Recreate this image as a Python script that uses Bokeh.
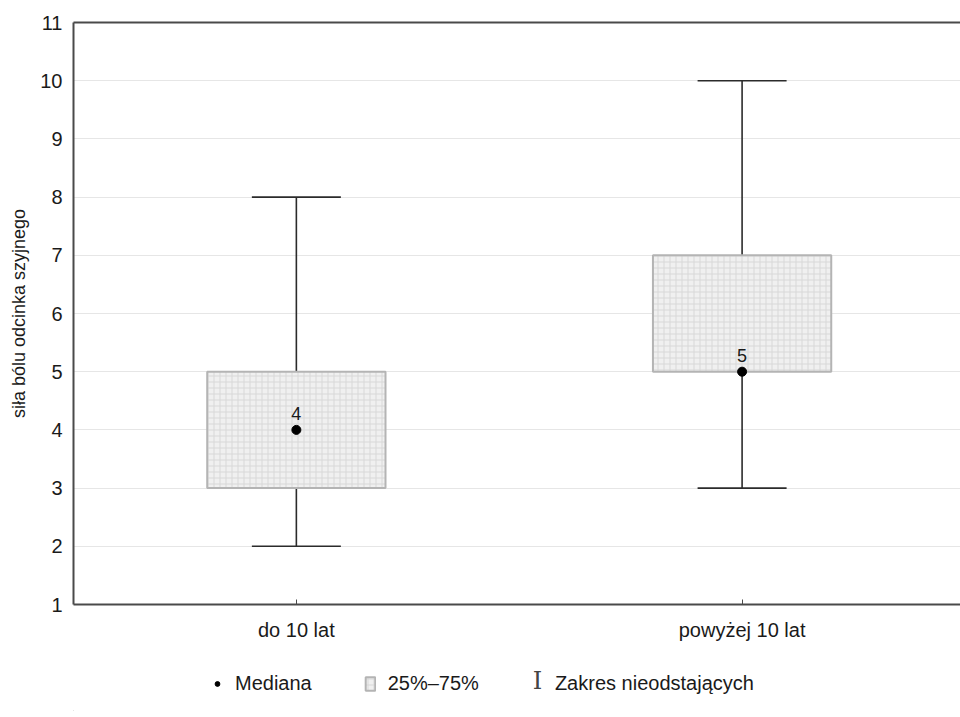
from bokeh.plotting import figure
from bokeh.layouts import column
from bokeh.models import (Range1d, FixedTicker, LinearAxis, Whisker, TeeHead,
                          ColumnDataSource, Legend, LegendItem, LabelSet, Label)
from bokeh.core.properties import value
from bokeh.embed import file_html
from bokeh.resources import INLINE

categories = ["do 10 lat", "powyżej 10 lat"]
medians = [4, 5]
q1 = [3, 5]
q3 = [5, 7]
whisker_low = [2, 3]
whisker_high = [8, 10]
y_ticks = list(range(1, 12))
legend_labels = ["Mediana", "25%–75%", "Zakres nieodstających"]

FONT = "Liberation Sans"
TXT = "#1a1a1a"
AX = "#4a4a4a"
WH = "#2b2b2b"

xpos = [i + 0.5 for i in range(len(categories))]
src = ColumnDataSource(dict(x=xpos, med=medians, q1=q1, q3=q3,
                            lo=whisker_low, hi=whisker_high,
                            lab=[str(m) for m in medians]))

p = figure(width=960, height=655, x_range=Range1d(0, 1.99), y_range=Range1d(1, 11),
           output_backend="svg", toolbar_location=None,
           min_border_left=73, min_border_top=22, min_border_right=0, min_border_bottom=51)
p.outline_line_color = None
p.background_fill_color = "white"

# axes
p.yaxis.ticker = FixedTicker(ticks=y_ticks)
p.xaxis.ticker = FixedTicker(ticks=xpos)
p.xaxis.major_label_overrides = {x: c for x, c in zip(xpos, categories)}
for ax in (p.xaxis[0], p.yaxis[0]):
    ax.axis_line_color = AX
    ax.axis_line_width = 2
    ax.major_tick_out = 0
    ax.minor_tick_line_color = None
    ax.major_label_text_font = FONT
    ax.major_label_text_font_size = "20px"
    ax.major_label_text_color = TXT
    ax.major_label_standoff = 11
p.yaxis.major_tick_in = 0
p.xaxis.major_tick_in = 5
p.xaxis.major_tick_line_color = AX
p.xaxis.major_label_standoff = 14
p.yaxis.axis_label = "siła bólu odcinka szyjnego"
p.yaxis.axis_label_text_font = FONT
p.yaxis.axis_label_text_font_size = "18px"
p.yaxis.axis_label_text_font_style = "normal"
p.yaxis.axis_label_text_color = TXT
p.yaxis.axis_label_standoff = 8

top = LinearAxis(ticker=FixedTicker(ticks=[]), major_label_text_font_size="0px",
                 major_tick_in=0, major_tick_out=0, minor_tick_line_color=None,
                 axis_line_color=AX, axis_line_width=2)
p.add_layout(top, "above")

p.xgrid.grid_line_color = None
p.ygrid.grid_line_color = "#e6e6e6"
p.ygrid.grid_line_width = 1

# whiskers
head_kw = dict(size=89, line_color=WH, line_width=1.6)
wh = Whisker(base="x", upper="hi", lower="lo", source=src, dimension="height",
             line_color=WH, line_width=1.6, level="underlay",
             upper_head=TeeHead(**head_kw), lower_head=TeeHead(**head_kw))
p.add_layout(wh)

BOX = dict(fill_color="#f0f0f0", line_color="#b4b4b4", line_width=2,
           hatch_pattern="cross", hatch_color="#d8d8d8", hatch_scale=6, hatch_weight=1)

# boxes
p.vbar(x="x", width=0.4, top="q3", bottom="q1", source=src, **BOX)

# medians
p.scatter(x="x", y="med", source=src, size=9, color="black")
labels = LabelSet(x="x", y="med", text="lab", source=src, y_offset=10,
                  text_align="center", text_baseline="bottom",
                  text_font=value(FONT), text_font_size="18px", text_color=TXT)
p.add_layout(labels)

# ---- legend strip below the chart ----
leg = figure(width=960, height=56, x_range=Range1d(10, 11), y_range=Range1d(10, 11),
             output_backend="svg", toolbar_location=None,
             min_border_left=0, min_border_right=0, min_border_top=0, min_border_bottom=0)
leg.axis.visible = False
leg.grid.visible = False
leg.outline_line_color = None

r_med = leg.scatter(x="x", y="med", source=src, size=9, color="black")
r_box = leg.vbar(x="x", width=0.4, top="q3", bottom="q1", source=src, **BOX)
r_wh = leg.scatter(x="x", y="hi", source=src, size=0, marker="dash",
                   line_alpha=0, fill_alpha=0)

legend = Legend(items=[LegendItem(label=legend_labels[0], renderers=[r_med]),
                       LegendItem(label=legend_labels[1], renderers=[r_box]),
                       LegendItem(label=legend_labels[2], renderers=[r_wh])],
                orientation="horizontal", location=(138, 16),
                label_text_font=FONT, label_text_font_size="20px", label_text_color=TXT,
                glyph_width=12, glyph_height=17, label_standoff=12, spacing=52,
                border_line_color=None, background_fill_alpha=0, margin=0, padding=0)
leg.add_layout(legend, "center")

ibeam = Label(x=464, y=31, x_units="screen", y_units="screen", text="I",
              text_font="DejaVu Serif", text_font_size="24px", text_color="#444444",
              text_align="center", text_baseline="middle")
leg.add_layout(ibeam)

open("out.html", "w").write(file_html(column(p, leg, spacing=0), INLINE))
